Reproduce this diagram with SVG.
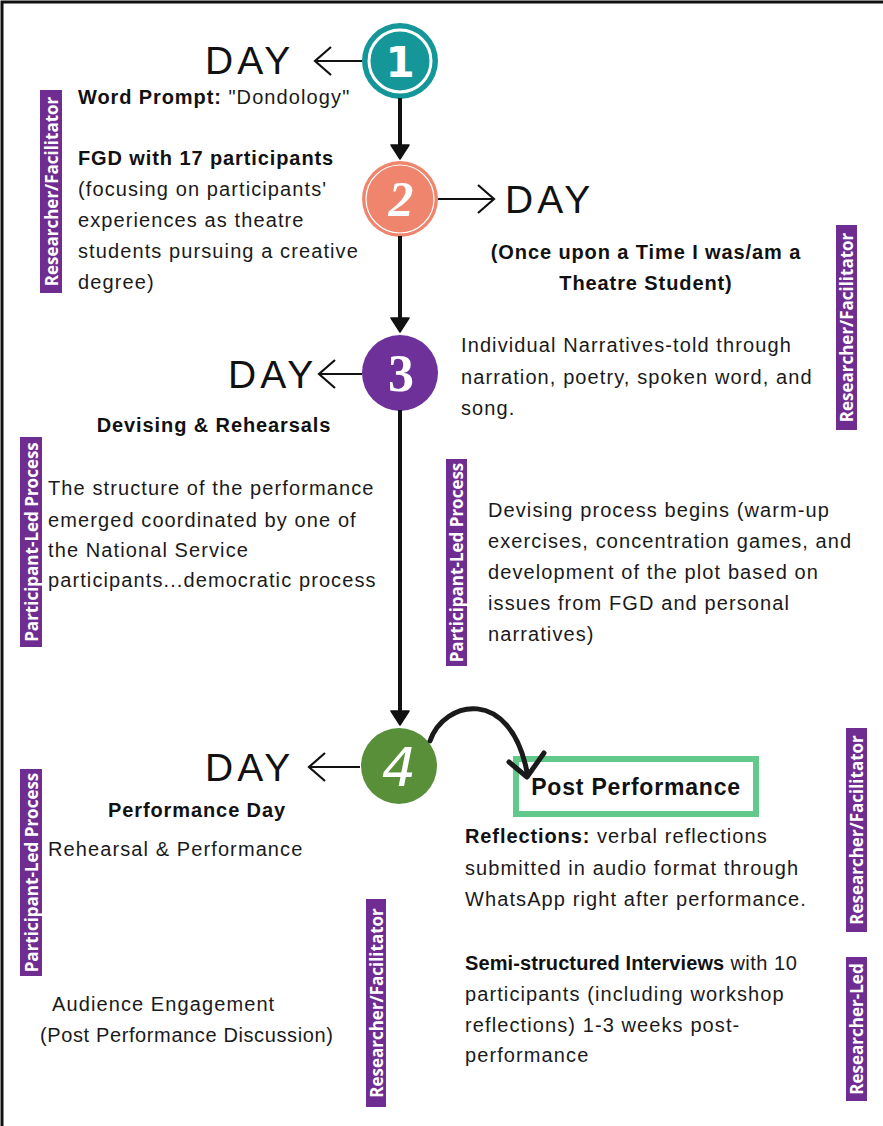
<svg xmlns="http://www.w3.org/2000/svg" width="883" height="1126" viewBox="0 0 883 1126">
  <defs>
    <style>
      .body { font-family: "Liberation Sans", Arial, sans-serif; font-size: 20px; letter-spacing: 1.1px; fill: #1a1a1a; }
      .bold { font-family: "Liberation Sans", Arial, sans-serif; font-size: 20px; letter-spacing: 0.9px; font-weight: bold; fill: #111; }
      .day { font-family: "Liberation Sans", Arial, sans-serif; font-size: 39px; letter-spacing: 4px; fill: #111; }
      .compact-bold { letter-spacing: 0.1px; }
      .compact { letter-spacing: 0.5px; }
      .tag rect { fill: #6f2c91; }
      .tag text { font-family: "Open Sans", "Liberation Sans", sans-serif; font-size: 17px; font-weight: bold; fill: #fff; text-anchor: middle; dominant-baseline: central; }
      .conn { stroke: #111; stroke-width: 4; fill: none; }
      .head { fill: #111; stroke: #111; stroke-width: 1.5; stroke-linejoin: round; }
      .dayarrow { stroke: #111; stroke-width: 2.2; fill: none; }
    </style>
  </defs>

  <rect x="0" y="0" width="883" height="1126" fill="#fff"/>
  <!-- frame: top and left edges -->
  <path d="M2,1126 V2 H883" fill="none" stroke="#111" stroke-width="3"/>

  <!-- day 1 -->
  <g id="day1">
    <circle cx="400" cy="61" r="38" fill="#15979a"/>
    <circle cx="400" cy="61" r="31" fill="none" stroke="#fff" stroke-width="3"/>
    <text x="400" y="77" text-anchor="middle" font-family="DejaVu Sans, sans-serif" font-weight="bold" font-size="42" fill="#fff">1</text>
    <text class="day" x="205" y="74">DAY</text>
    <text x="78" y="104"><tspan class="bold">Word Prompt:</tspan><tspan class="body"> "Dondology"</tspan></text>
  </g>

  <!-- day 2 -->
  <g id="day2">
    <circle cx="400" cy="199" r="38" fill="#ee856c"/>
    <circle cx="400" cy="199" r="34" fill="none" stroke="#fff" stroke-width="1.2"/>
    <text x="401" y="216" text-anchor="middle" font-family="Liberation Serif, serif" font-weight="bold" font-style="italic" font-size="50" fill="#fff">2</text>
    <text class="day" x="505" y="213">DAY</text>
    <text class="bold" x="646" y="259" text-anchor="middle">(Once upon a Time I was/am a</text>
    <text class="bold" x="646" y="290" text-anchor="middle">Theatre Student)</text>
  </g>

  <!-- day 3 -->
  <g id="day3">
    <circle cx="400" cy="373" r="38" fill="#6e3199"/>
    <text x="401" y="391" text-anchor="middle" font-family="Liberation Serif, serif" font-weight="bold" font-size="52" fill="#fff">3</text>
    <text class="day" x="228" y="388">DAY</text>
    <text class="bold" x="214" y="432" text-anchor="middle">Devising &amp; Rehearsals</text>
  </g>

  <!-- day 4 -->
  <g id="day4">
    <circle cx="399" cy="766" r="38" fill="#5a8f3a"/>
    <text x="399" y="786" text-anchor="middle" font-family="DejaVu Sans, sans-serif" font-style="italic" font-size="54" fill="#fff">4</text>
    <text class="day" x="205" y="781">DAY</text>
    <text class="bold" x="197" y="817" text-anchor="middle">Performance Day</text>
  </g>

  <!-- FGD note -->
  <g id="fgd">
    <text class="bold" x="78" y="165">FGD with 17 participants</text>
    <text class="body" x="78" y="196">(focusing on participants'</text>
    <text class="body" x="78" y="227">experiences as theatre</text>
    <text class="body" x="78" y="258">students pursuing a creative</text>
    <text class="body" x="78" y="289">degree)</text>
  </g>

  <!-- individual narratives note -->
  <g id="narratives">
    <text class="body" x="461" y="352">Individual Narratives-told through</text>
    <text class="body" x="461" y="384">narration, poetry, spoken word, and</text>
    <text class="body" x="461" y="415">song.</text>
  </g>

  <!-- structure note -->
  <g id="structure">
    <text class="body" x="48" y="495">The structure of the performance</text>
    <text class="body" x="48" y="527">emerged coordinated by one of</text>
    <text class="body" x="48" y="557">the National Service</text>
    <text class="body" x="48" y="587">participants...democratic process</text>
  </g>

  <!-- devising note -->
  <g id="devising">
    <text class="body" x="488" y="517">Devising process begins (warm-up</text>
    <text class="body" x="488" y="548">exercises, concentration games, and</text>
    <text class="body" x="488" y="579">development of the plot based on</text>
    <text class="body" x="488" y="610">issues from FGD and personal</text>
    <text class="body" x="488" y="641">narratives)</text>
  </g>

  <!-- performance notes -->
  <g id="performance">
    <text class="body" x="48" y="856">Rehearsal &amp; Performance</text>
    <text class="body" x="52" y="1011">Audience Engagement</text>
    <text class="body" x="40" y="1042" textLength="294" lengthAdjust="spacing">(Post Performance Discussion)</text>
  </g>

  <!-- post performance -->
  <g id="post">
    <rect x="516" y="759" width="240" height="55" fill="none" stroke="#62c98b" stroke-width="6"/>
    <text x="636" y="795" text-anchor="middle" font-family="Liberation Sans, sans-serif" font-weight="bold" font-size="23" letter-spacing="0.8" fill="#111">Post Performance</text>
  </g>

  <g id="reflections">
    <text x="465" y="843"><tspan class="bold">Reflections:</tspan><tspan class="body"> verbal reflections</tspan></text>
    <text class="body" x="465" y="875">submitted in audio format through</text>
    <text class="body" x="465" y="906">WhatsApp right after performance.</text>
  </g>

  <g id="interviews">
    <text x="465" y="970"><tspan class="bold compact-bold">Semi-structured Interviews</tspan><tspan class="body compact"> with 10</tspan></text>
    <text class="body" x="465" y="1001">participants (including workshop</text>
    <text class="body" x="465" y="1032">reflections) 1-3 weeks post-</text>
    <text class="body" x="465" y="1062">performance</text>
  </g>

  <!-- role tags -->
  <g id="tag-rf-1" class="tag">
    <rect x="40" y="90" width="22" height="203"/>
    <text transform="translate(51,191.5) rotate(-90)">Researcher/Facilitator</text>
  </g>
  <g id="tag-rf-2" class="tag">
    <rect x="836" y="225" width="21" height="205"/>
    <text transform="translate(846.5,327.5) rotate(-90)">Researcher/Facilitator</text>
  </g>
  <g id="tag-pl-1" class="tag">
    <rect x="20" y="437" width="22" height="210"/>
    <text transform="translate(31,542) rotate(-90)">Participant-Led Process</text>
  </g>
  <g id="tag-pl-2" class="tag">
    <rect x="446" y="459" width="21" height="207"/>
    <text transform="translate(456.5,562.5) rotate(-90)">Participant-Led Process</text>
  </g>
  <g id="tag-pl-3" class="tag">
    <rect x="20" y="769" width="22" height="207"/>
    <text transform="translate(31,872.5) rotate(-90)">Participant-Led Process</text>
  </g>
  <g id="tag-rf-3" class="tag">
    <rect x="366" y="899" width="20" height="208"/>
    <text transform="translate(376,1003) rotate(-90)">Researcher/Facilitator</text>
  </g>
  <g id="tag-rf-4" class="tag">
    <rect x="846" y="728" width="21" height="204"/>
    <text transform="translate(856.5,830) rotate(-90)">Researcher/Facilitator</text>
  </g>
  <g id="tag-rl" class="tag">
    <rect x="846" y="957" width="21" height="144"/>
    <text transform="translate(856.5,1029) rotate(-90)">Researcher-Led</text>
  </g>

  <!-- connectors -->
  <g id="connectors">
    <line class="conn" x1="400" y1="98" x2="400" y2="150"/>
    <path class="head" d="M391,145 L409,145 L400,159 Z"/>
    <line class="conn" x1="400" y1="236" x2="400" y2="323"/>
    <path class="head" d="M391,318 L409,318 L400,332 Z"/>
    <line class="conn" x1="400" y1="410" x2="400" y2="716"/>
    <path class="head" d="M391,711 L409,711 L400,725 Z"/>
    <!-- circle to DAY arrows -->
    <path class="dayarrow" d="M362,61 H315 M331,47 L315,61 L331,75"/>
    <path class="dayarrow" d="M438,199 H494 M478,185 L494,199 L478,213"/>
    <path class="dayarrow" d="M362,374 H319 M335,360 L319,374 L335,388"/>
    <path class="dayarrow" d="M360,767 H309 M325,753 L309,767 L325,781"/>
    <!-- curved arrow to post performance -->
    <path d="M430,741 C444,700 510,686 527,772" fill="none" stroke="#1a1a1a" stroke-width="5" stroke-linecap="round"/>
    <path d="M509,762 L527,777 L544,753" fill="none" stroke="#1a1a1a" stroke-width="5" stroke-linecap="round" stroke-linejoin="round"/>
  </g>
</svg>
